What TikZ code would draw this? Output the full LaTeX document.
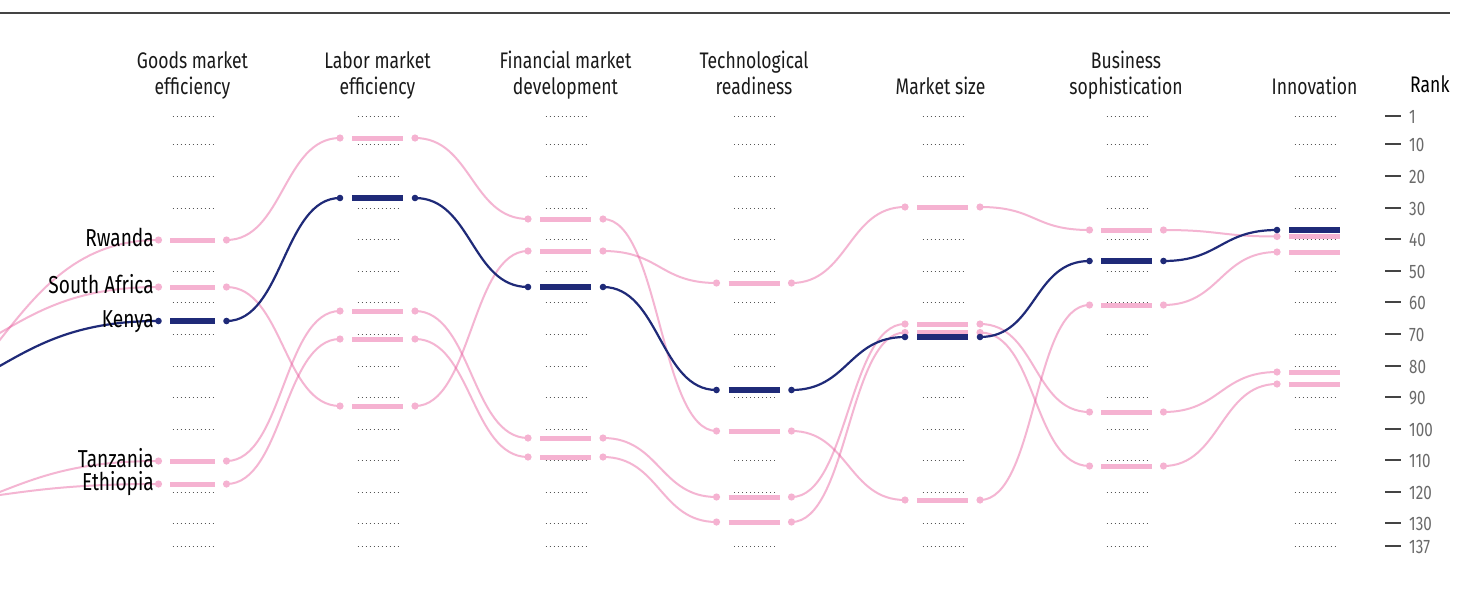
\documentclass[tikz,border=0pt]{standalone}
\usepackage{fontspec}
\setmainfont{Fira Sans}[FakeStretch=0.78]
\definecolor{pinkbarc}{HTML}{F5B2D1}
\definecolor{pinklinec}{RGB}{230,80,150}
\definecolor{navyc}{HTML}{1F2A78}
\definecolor{dotgray}{HTML}{555555}
\definecolor{rankgray}{HTML}{6A6A6A}
\definecolor{rulec}{HTML}{444444}
\definecolor{txtc}{HTML}{1A1A1A}
\tikzset{
  pinkline/.style={draw=pinklinec, draw opacity=0.42, line width=2pt},
  navyline/.style={draw=navyc, line width=2.2pt},
  pinkbar/.style={draw=pinkbarc, line width=5pt},
  navybar/.style={draw=navyc, line width=6pt},
  dotrow/.style={draw=dotgray, line width=0.9pt, dash pattern=on 1pt off 3pt},
  ranktick/.style={draw=rulec, line width=1.5pt},
  link/.style={out=0, in=180, distance=56.5pt},
  farlink/.style={out=0, in=180, distance=159pt},
  hdr/.style={anchor=base, inner sep=0pt, text=txtc, font=\fontsize{22.5}{27}\selectfont},
  cname/.style={anchor=base east, inner sep=0pt, text=black, font=\fontsize{24.5}{27}\selectfont},
  ranklab/.style={anchor=base west, inner sep=0pt, text=rankgray, font=\fontsize{19.5}{22}\selectfont},
}
\newcommand\mkcountry[3]{% id, start y, ys
  \coordinate (#1-0) at (-159,#2);
  \foreach \yy [count=\i] in {#3} {
    \pgfmathsetmacro\cx{{192.5,377.5,565.5,754,942.5,1126.5,1314.5}[\i-1]}
    \pgfmathsetmacro\dof{{34,37.5,37.5,37.5,37.5,37,37.5}[\i-1]}
    \pgfmathsetmacro\bhw{{22.5,25.5,25.5,25.5,25.5,25.5,25.5}[\i-1]}
    \coordinate (#1-\i-l) at (\cx-\dof,\yy);
    \coordinate (#1-\i-r) at (\cx+\dof,\yy);
    \coordinate (#1-\i-a) at (\cx-\bhw,\yy);
    \coordinate (#1-\i-b) at (\cx+\bhw,\yy);
  }}
\newcommand\linkcountry[2]{%
  \draw[#2] (#1-0) to[farlink] (#1-1-l);
  \foreach \i [evaluate=\i as \j using int(\i+1)] in {1,...,6}
    \draw[#2] (#1-\i-r) to[link] (#1-\j-l);}
\newcommand\barscountry[2]{%
  \foreach \i in {1,...,7} \draw[#2] (#1-\i-a) -- (#1-\i-b);}
\newcommand\dotscountry[3]{%
  \foreach \i in {1,...,7} {\fill[#2] (#1-\i-l) circle (#3);}
  \foreach \i in {1,...,6} {\fill[#2] (#1-\i-r) circle (#3);}}
\begin{document}
\begin{tikzpicture}[x=1pt,y=-1pt]
\useasboundingbox (0,0) rectangle (1467,608);
\fill[white] (0,0) rectangle (1467,608);
\begin{scope}
\clip (0,0) rectangle (1467,608);
\draw[rulec, line width=2pt] (0,12.5) -- (1450,12.5);
% headers
\node[hdr] (h1a) at (192.5,68) {Goods market};
\node[hdr] (h1b) at (192.5,94) {efficiency};
\node[hdr] (h2a) at (377.5,68) {Labor market};
\node[hdr] (h2b) at (377.5,94) {efficiency};
\node[hdr] (h3a) at (565.5,68) {Financial market};
\node[hdr] (h3b) at (565.5,94) {development};
\node[hdr] (h4a) at (754,68) {Technological};
\node[hdr] (h4b) at (754,94) {readiness};
\node[hdr] (h5) at (940.5,94) {Market size};
\node[hdr] (h6a) at (1126,68) {Business};
\node[hdr] (h6b) at (1126,94) {sophistication};
\node[hdr] (h7) at (1314.5,94) {Innovation};
\node[hdr, anchor=base west, text=black] (hr) at (1410,92) {Rank};
% dotted rows and rank scale
\foreach \c in {192.5,377.5,565.5,754,942.5,1126.5,1314.5}
  \foreach \y in {116,144,176,208,239,271,302,334,366,397,429,460,492,523,546}
    \draw[dotrow] (\c-20,\y) -- (\c+21,\y);
\foreach \y/\r in {116/1,144/10,176/20,208/30,239/40,271/50,302/60,334/70,366/80,397/90,429/100,460/110,492/120,523/130,546/137} {
  \coordinate (t\r a) at (1385,\y);
  \coordinate (t\r b) at (1401,\y);
  \draw[ranktick] (t\r a) -- (t\r b);
  \node[ranklab] (rl\r) at (1409,\y+7) {\r};
}
% data
\mkcountry{K}{411}{321,198,287,390,337,261,230}
\mkcountry{R}{440}{240,138,219,431,500,305,252}
\mkcountry{S}{379}{287,406,251,283,207,230,236.5}
\mkcountry{T}{523}{461,311,438,497,324,412,372}
\mkcountry{E}{506}{484,339,457,522,332.5,466,384}
\foreach \c in {R,S,T,E} {\linkcountry{\c}{pinkline}}
\foreach \c in {R,S,T,E} {\barscountry{\c}{pinkbar}}
\foreach \c in {R,S,T,E} {\dotscountry{\c}{pinkbarc}{3.6}}
\linkcountry{K}{navyline}
\barscountry{K}{navybar}
\dotscountry{K}{navyc}{3.3}
% country labels
\node[cname] (nR) at (154,246) {Rwanda};
\node[cname] (nS) at (154,293) {South Africa};
\node[cname] (nK) at (154,327) {Kenya};
\node[cname] (nT) at (154,467) {Tanzania};
\node[cname] (nE) at (154,490) {Ethiopia};
\end{scope}
\end{tikzpicture}
\end{document}
